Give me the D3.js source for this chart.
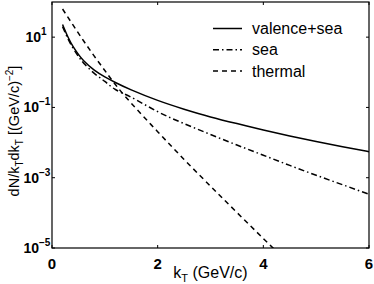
<!DOCTYPE html>
<html>
<head>
<meta charset="utf-8">
<script src="https://cdn.jsdelivr.net/npm/d3@7.9.0/dist/d3.min.js"></script>
<style>
  body { margin: 0; background: #fff; }
  svg { display: block; font-family: "Liberation Sans", Arial, sans-serif; }
</style>
</head>
<body>
<svg id="chart" width="374" height="284"></svg>
<script>
// kT values (GeV/c) and log10 of dN/kTdkT
const kT = [0.2, 0.3, 0.4, 0.5, 0.6, 0.8, 1.0, 1.2, 1.5, 2.0, 2.5, 3.0, 3.5, 4.0, 4.5, 5.0, 5.5, 6.0];
const valenceSea = [1.36, 1.01, 0.73, 0.51, 0.33, 0.06, -0.13, -0.29, -0.50, -0.80, -1.05, -1.27, -1.46, -1.64, -1.81, -1.97, -2.12, -2.26];
const sea = [1.30, 0.96, 0.68, 0.45, 0.26, -0.03, -0.26, -0.49, -0.71, -1.12, -1.46, -1.77, -2.07, -2.36, -2.65, -2.93, -3.20, -3.47];
const thermalKT = [0.2, 0.4, 0.6, 0.8, 1.0, 1.2, 1.5, 2.0, 2.5, 3.0, 3.5, 4.0, 4.3];
const thermal = [1.80, 1.34, 0.89, 0.46, 0.05, -0.35, -0.88, -1.69, -2.48, -3.24, -3.99, -4.73, -5.17];

const xTicks = [0, 2, 4, 6];
const yTicks = [1, -1, -3, -5]; // exponents

const series = [
  { name: "valence+sea", x: kT, y: valenceSea, dash: null },
  { name: "sea", x: kT, y: sea, dash: "6,3,1.5,3" },
  { name: "thermal", x: thermalKT, y: thermal, dash: "5,4" }
];

const svg = d3.select('#chart');
const margin = { left: 52, right: 5, top: 2, bottom: 36 };
const W = 374, H = 284;

const x = d3.scaleLinear().domain([0, 6]).range([margin.left, W - margin.right]);
const y = d3.scaleLog().domain([1e-5, 1e2]).range([H - margin.bottom, margin.top]);

svg.append('clipPath').attr('id', 'clip')
  .append('rect')
  .attr('x', x(0)).attr('y', y(1e2))
  .attr('width', x(6) - x(0)).attr('height', y(1e-5) - y(1e2));

const line = d3.line()
  .x(d => x(d[0]))
  .y(d => y(Math.pow(10, d[1])))
  .curve(d3.curveNatural);

series.forEach(s => {
  const pts = s.x.map((v, i) => [v, s.y[i]]);
  svg.append('path')
    .attr('d', line(pts))
    .attr('fill', 'none')
    .attr('stroke', '#000')
    .attr('stroke-width', 1.5)
    .attr('stroke-dasharray', s.dash)
    .attr('clip-path', 'url(#clip)');
});

// frame
svg.append('rect')
  .attr('x', x(0)).attr('y', y(1e2))
  .attr('width', x(6) - x(0)).attr('height', y(1e-5) - y(1e2))
  .attr('fill', 'none').attr('stroke', '#000').attr('stroke-width', 1.2);

// ticks (inside, on all four sides)
const tl = 3;
xTicks.forEach(t => {
  svg.append('line').attr('x1', x(t)).attr('x2', x(t))
    .attr('y1', y(1e-5)).attr('y2', y(1e-5) - tl).attr('stroke', '#000');
  svg.append('line').attr('x1', x(t)).attr('x2', x(t))
    .attr('y1', y(1e2)).attr('y2', y(1e2) + tl).attr('stroke', '#000');
  svg.append('text')
    .attr('x', x(t)).attr('y', y(1e-5) + 21)
    .attr('text-anchor', 'middle')
    .attr('font-size', 15).attr('font-weight', 'bold')
    .text(t);
});

yTicks.forEach(e => {
  const yy = y(Math.pow(10, e));
  svg.append('line').attr('x1', x(0)).attr('x2', x(0) + tl)
    .attr('y1', yy).attr('y2', yy).attr('stroke', '#000');
  svg.append('line').attr('x1', x(6)).attr('x2', x(6) - tl)
    .attr('y1', yy).attr('y2', yy).attr('stroke', '#000');
  const sup = e < 0 ? '\u2212' + Math.abs(e) : String(e);
  const bx = e < 0 ? 39 : 41;
  svg.append('text')
    .attr('x', bx).attr('y', yy + 5)
    .attr('text-anchor', 'end')
    .attr('font-size', 14).attr('font-weight', 'bold')
    .text('10');
  svg.append('text')
    .attr('x', bx).attr('y', yy - 2)
    .attr('font-size', 10).attr('font-weight', 'bold')
    .text(sup);
});

// axis labels
const xl = svg.append('text')
  .attr('x', (x(0) + x(6)) / 2).attr('y', 278)
  .attr('text-anchor', 'middle')
  .attr('font-size', 16);
xl.append('tspan').text('k');
xl.append('tspan').attr('font-size', 11).attr('dy', 4).text('T');
xl.append('tspan').attr('dy', -4).text(' (GeV/c)');

const yl = svg.append('text')
  .attr('transform', 'translate(19,131) rotate(-90)')
  .attr('text-anchor', 'middle')
  .attr('font-size', 14.5);
yl.append('tspan').text('dN/k');
yl.append('tspan').attr('font-size', 10).attr('dy', 4).text('T');
yl.append('tspan').attr('dy', -4).text('dk');
yl.append('tspan').attr('font-size', 10).attr('dy', 4).text('T');
yl.append('tspan').attr('dy', -4).text(' [(GeV/c)');
yl.append('tspan').attr('font-size', 10).attr('dy', -6).text('\u22122');
yl.append('tspan').attr('dy', 6).text(']');

// legend
series.forEach((s, i) => {
  const ly = 28.5 + i * 21.3;
  svg.append('line')
    .attr('x1', 213).attr('x2', 242)
    .attr('y1', ly).attr('y2', ly)
    .attr('stroke', '#000').attr('stroke-width', 1.5)
    .attr('stroke-dasharray', s.dash);
  svg.append('text')
    .attr('x', 252).attr('y', ly + 5.5)
    .attr('font-size', 16)
    .text(s.name);
});
</script>
</body>
</html>
